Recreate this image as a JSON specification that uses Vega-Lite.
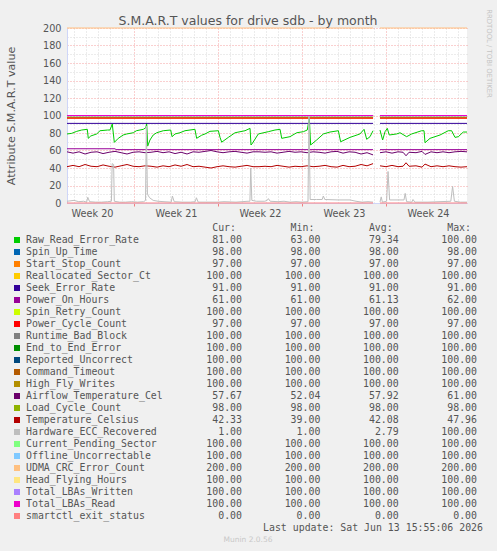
{
  "$schema": "https://vega.github.io/schema/vega-lite/v6.json",
  "width": 400,
  "height": 175,
  "autosize": {"type": "none"},
  "padding": {"left": 67, "top": 28, "right": 30, "bottom": 348},
  "background": "#f0f0f0",
  "config": {"view": {"fill": "#ffffff", "stroke": null}},
  "title": {"text": "S.M.A.R.T values for drive sdb - by month", "font": "DejaVu Sans", "fontSize": 12.5, "fontWeight": "normal", "color": "#555555", "anchor": "middle", "frame": "group", "dx": -19, "offset": -19},
  "datasets": {
    "stats": [
      {"name": "Raw_Read_Error_Rate", "cur": 81, "min": 63, "avg": 79.34, "max": 100},
      {"name": "Spin_Up_Time", "cur": 98, "min": 98, "avg": 98, "max": 98},
      {"name": "Start_Stop_Count", "cur": 97, "min": 97, "avg": 97, "max": 97},
      {"name": "Reallocated_Sector_Ct", "cur": 100, "min": 100, "avg": 100, "max": 100},
      {"name": "Seek_Error_Rate", "cur": 91, "min": 91, "avg": 91, "max": 91},
      {"name": "Power_On_Hours", "cur": 61, "min": 61, "avg": 61.13, "max": 62},
      {"name": "Spin_Retry_Count", "cur": 100, "min": 100, "avg": 100, "max": 100},
      {"name": "Power_Cycle_Count", "cur": 97, "min": 97, "avg": 97, "max": 97},
      {"name": "Runtime_Bad_Block", "cur": 100, "min": 100, "avg": 100, "max": 100},
      {"name": "End_to_End_Error", "cur": 100, "min": 100, "avg": 100, "max": 100},
      {"name": "Reported_Uncorrect", "cur": 100, "min": 100, "avg": 100, "max": 100},
      {"name": "Command_Timeout", "cur": 100, "min": 100, "avg": 100, "max": 100},
      {"name": "High_Fly_Writes", "cur": 100, "min": 100, "avg": 100, "max": 100},
      {"name": "Airflow_Temperature_Cel", "cur": 57.67, "min": 52.04, "avg": 57.92, "max": 61},
      {"name": "Load_Cycle_Count", "cur": 98, "min": 98, "avg": 98, "max": 98},
      {"name": "Temperature_Celsius", "cur": 42.33, "min": 39, "avg": 42.08, "max": 47.96},
      {"name": "Hardware_ECC_Recovered", "cur": 1, "min": 1, "avg": 2.79, "max": 100},
      {"name": "Current_Pending_Sector", "cur": 100, "min": 100, "avg": 100, "max": 100},
      {"name": "Offline_Uncorrectable", "cur": 100, "min": 100, "avg": 100, "max": 100},
      {"name": "UDMA_CRC_Error_Count", "cur": 200, "min": 200, "avg": 200, "max": 200},
      {"name": "Head_Flying_Hours", "cur": 100, "min": 100, "avg": 100, "max": 100},
      {"name": "Total_LBAs_Written", "cur": 100, "min": 100, "avg": 100, "max": 100},
      {"name": "Total_LBAs_Read", "cur": 100, "min": 100, "avg": 100, "max": 100},
      {"name": "smartctl_exit_status", "cur": 0, "min": 0, "avg": 0, "max": 0}
    ],
    "headers": [
      {"stat": "cur", "label": "Cur:"},
      {"stat": "min", "label": "Min:"},
      {"stat": "avg", "label": "Avg:"},
      {"stat": "max", "label": "Max:"}
    ],
    "update": [{"text": "Last update: Sat Jun 13 15:55:06 2026"}],
    "footer": [{"text": "Munin 2.0.56"}],
    "series": [
      {"attr": "Raw_Read_Error_Rate", "day": 1.417, "value": 78.9, "seg": "a"},
      {"attr": "Raw_Read_Error_Rate", "day": 1.81, "value": 79.6, "seg": "a"},
      {"attr": "Raw_Read_Error_Rate", "day": 2.23, "value": 81.9, "seg": "a"},
      {"attr": "Raw_Read_Error_Rate", "day": 2.64, "value": 83.4, "seg": "a"},
      {"attr": "Raw_Read_Error_Rate", "day": 3.11, "value": 84.2, "seg": "a"},
      {"attr": "Raw_Read_Error_Rate", "day": 3.19, "value": 73.9, "seg": "a"},
      {"attr": "Raw_Read_Error_Rate", "day": 3.4, "value": 76.6, "seg": "a"},
      {"attr": "Raw_Read_Error_Rate", "day": 3.89, "value": 78.9, "seg": "a"},
      {"attr": "Raw_Read_Error_Rate", "day": 4.17, "value": 82.6, "seg": "a"},
      {"attr": "Raw_Read_Error_Rate", "day": 4.8, "value": 83.4, "seg": "a"},
      {"attr": "Raw_Read_Error_Rate", "day": 5.0, "value": 83.4, "seg": "a"},
      {"attr": "Raw_Read_Error_Rate", "day": 5.19, "value": 90.3, "seg": "a"},
      {"attr": "Raw_Read_Error_Rate", "day": 5.36, "value": 69.3, "seg": "a"},
      {"attr": "Raw_Read_Error_Rate", "day": 5.69, "value": 73.9, "seg": "a"},
      {"attr": "Raw_Read_Error_Rate", "day": 6.1, "value": 77.7, "seg": "a"},
      {"attr": "Raw_Read_Error_Rate", "day": 6.4, "value": 78.9, "seg": "a"},
      {"attr": "Raw_Read_Error_Rate", "day": 6.94, "value": 80.3, "seg": "a"},
      {"attr": "Raw_Read_Error_Rate", "day": 7.2, "value": 82.6, "seg": "a"},
      {"attr": "Raw_Read_Error_Rate", "day": 7.78, "value": 84.2, "seg": "a"},
      {"attr": "Raw_Read_Error_Rate", "day": 7.98, "value": 86, "seg": "a"},
      {"attr": "Raw_Read_Error_Rate", "day": 8.06, "value": 91, "seg": "a"},
      {"attr": "Raw_Read_Error_Rate", "day": 8.14, "value": 65, "seg": "a"},
      {"attr": "Raw_Read_Error_Rate", "day": 8.33, "value": 72, "seg": "a"},
      {"attr": "Raw_Read_Error_Rate", "day": 8.6, "value": 77.7, "seg": "a"},
      {"attr": "Raw_Read_Error_Rate", "day": 8.89, "value": 80.3, "seg": "a"},
      {"attr": "Raw_Read_Error_Rate", "day": 9.44, "value": 82.6, "seg": "a"},
      {"attr": "Raw_Read_Error_Rate", "day": 10.06, "value": 83.4, "seg": "a"},
      {"attr": "Raw_Read_Error_Rate", "day": 10.17, "value": 75.8, "seg": "a"},
      {"attr": "Raw_Read_Error_Rate", "day": 10.42, "value": 78.9, "seg": "a"},
      {"attr": "Raw_Read_Error_Rate", "day": 10.83, "value": 80.3, "seg": "a"},
      {"attr": "Raw_Read_Error_Rate", "day": 11.25, "value": 82.6, "seg": "a"},
      {"attr": "Raw_Read_Error_Rate", "day": 12.08, "value": 84.2, "seg": "a"},
      {"attr": "Raw_Read_Error_Rate", "day": 12.22, "value": 73.9, "seg": "a"},
      {"attr": "Raw_Read_Error_Rate", "day": 12.64, "value": 77.5, "seg": "a"},
      {"attr": "Raw_Read_Error_Rate", "day": 12.92, "value": 78.9, "seg": "a"},
      {"attr": "Raw_Read_Error_Rate", "day": 13.33, "value": 81.9, "seg": "a"},
      {"attr": "Raw_Read_Error_Rate", "day": 14.03, "value": 82.6, "seg": "a"},
      {"attr": "Raw_Read_Error_Rate", "day": 14.17, "value": 75, "seg": "a"},
      {"attr": "Raw_Read_Error_Rate", "day": 14.31, "value": 69.5, "seg": "a"},
      {"attr": "Raw_Read_Error_Rate", "day": 14.86, "value": 75, "seg": "a"},
      {"attr": "Raw_Read_Error_Rate", "day": 15.42, "value": 80.3, "seg": "a"},
      {"attr": "Raw_Read_Error_Rate", "day": 16.25, "value": 82.6, "seg": "a"},
      {"attr": "Raw_Read_Error_Rate", "day": 16.67, "value": 85.3, "seg": "a"},
      {"attr": "Raw_Read_Error_Rate", "day": 16.75, "value": 66.3, "seg": "a"},
      {"attr": "Raw_Read_Error_Rate", "day": 16.83, "value": 67.5, "seg": "a"},
      {"attr": "Raw_Read_Error_Rate", "day": 17.36, "value": 78.9, "seg": "a"},
      {"attr": "Raw_Read_Error_Rate", "day": 18.19, "value": 81.5, "seg": "a"},
      {"attr": "Raw_Read_Error_Rate", "day": 18.75, "value": 83.4, "seg": "a"},
      {"attr": "Raw_Read_Error_Rate", "day": 19.17, "value": 84.2, "seg": "a"},
      {"attr": "Raw_Read_Error_Rate", "day": 19.31, "value": 73.9, "seg": "a"},
      {"attr": "Raw_Read_Error_Rate", "day": 20.0, "value": 75.8, "seg": "a"},
      {"attr": "Raw_Read_Error_Rate", "day": 20.56, "value": 80.3, "seg": "a"},
      {"attr": "Raw_Read_Error_Rate", "day": 21.11, "value": 81.5, "seg": "a"},
      {"attr": "Raw_Read_Error_Rate", "day": 21.44, "value": 83.4, "seg": "a"},
      {"attr": "Raw_Read_Error_Rate", "day": 21.61, "value": 97, "seg": "a"},
      {"attr": "Raw_Read_Error_Rate", "day": 21.72, "value": 66.3, "seg": "a"},
      {"attr": "Raw_Read_Error_Rate", "day": 22.22, "value": 72, "seg": "a"},
      {"attr": "Raw_Read_Error_Rate", "day": 22.78, "value": 78.9, "seg": "a"},
      {"attr": "Raw_Read_Error_Rate", "day": 23.33, "value": 81.1, "seg": "a"},
      {"attr": "Raw_Read_Error_Rate", "day": 24.03, "value": 82.6, "seg": "a"},
      {"attr": "Raw_Read_Error_Rate", "day": 24.22, "value": 70, "seg": "a"},
      {"attr": "Raw_Read_Error_Rate", "day": 25.0, "value": 75, "seg": "a"},
      {"attr": "Raw_Read_Error_Rate", "day": 25.83, "value": 78.9, "seg": "a"},
      {"attr": "Raw_Read_Error_Rate", "day": 26.17, "value": 84.2, "seg": "a"},
      {"attr": "Raw_Read_Error_Rate", "day": 26.39, "value": 72.8, "seg": "a"},
      {"attr": "Raw_Read_Error_Rate", "day": 26.67, "value": 75.8, "seg": "a"},
      {"attr": "Raw_Read_Error_Rate", "day": 26.92, "value": 82.6, "seg": "a"},
      {"attr": "Raw_Read_Error_Rate", "day": 27.5, "value": 83.4, "seg": "b"},
      {"attr": "Raw_Read_Error_Rate", "day": 27.72, "value": 72, "seg": "b"},
      {"attr": "Raw_Read_Error_Rate", "day": 27.92, "value": 81.5, "seg": "b"},
      {"attr": "Raw_Read_Error_Rate", "day": 28.11, "value": 85.3, "seg": "b"},
      {"attr": "Raw_Read_Error_Rate", "day": 28.27, "value": 77.7, "seg": "b"},
      {"attr": "Raw_Read_Error_Rate", "day": 28.89, "value": 78.9, "seg": "b"},
      {"attr": "Raw_Read_Error_Rate", "day": 29.17, "value": 80.3, "seg": "b"},
      {"attr": "Raw_Read_Error_Rate", "day": 29.72, "value": 75.8, "seg": "b"},
      {"attr": "Raw_Read_Error_Rate", "day": 30.14, "value": 78.9, "seg": "b"},
      {"attr": "Raw_Read_Error_Rate", "day": 30.97, "value": 82.6, "seg": "b"},
      {"attr": "Raw_Read_Error_Rate", "day": 31.17, "value": 82.6, "seg": "b"},
      {"attr": "Raw_Read_Error_Rate", "day": 31.25, "value": 68.9, "seg": "b"},
      {"attr": "Raw_Read_Error_Rate", "day": 31.67, "value": 73.9, "seg": "b"},
      {"attr": "Raw_Read_Error_Rate", "day": 32.5, "value": 77.7, "seg": "b"},
      {"attr": "Raw_Read_Error_Rate", "day": 33.19, "value": 82.6, "seg": "b"},
      {"attr": "Raw_Read_Error_Rate", "day": 33.47, "value": 82.6, "seg": "b"},
      {"attr": "Raw_Read_Error_Rate", "day": 33.75, "value": 75, "seg": "b"},
      {"attr": "Raw_Read_Error_Rate", "day": 34.03, "value": 75.8, "seg": "b"},
      {"attr": "Raw_Read_Error_Rate", "day": 34.44, "value": 81.1, "seg": "b"},
      {"attr": "Raw_Read_Error_Rate", "day": 34.75, "value": 81.1, "seg": "b"},

      {"attr": "Spin_Up_Time", "day": 1.417, "value": 98, "seg": "a"},
      {"attr": "Spin_Up_Time", "day": 26.92, "value": 98, "seg": "a"},
      {"attr": "Spin_Up_Time", "day": 27.5, "value": 98, "seg": "b"},
      {"attr": "Spin_Up_Time", "day": 34.75, "value": 98, "seg": "b"},
      {"attr": "Load_Cycle_Count", "day": 1.417, "value": 98, "seg": "a"},
      {"attr": "Load_Cycle_Count", "day": 26.92, "value": 98, "seg": "a"},
      {"attr": "Load_Cycle_Count", "day": 27.5, "value": 98, "seg": "b"},
      {"attr": "Load_Cycle_Count", "day": 34.75, "value": 98, "seg": "b"},
      {"attr": "Start_Stop_Count", "day": 1.417, "value": 97, "seg": "a"},
      {"attr": "Start_Stop_Count", "day": 26.92, "value": 97, "seg": "a"},
      {"attr": "Start_Stop_Count", "day": 27.5, "value": 97, "seg": "b"},
      {"attr": "Start_Stop_Count", "day": 34.75, "value": 97, "seg": "b"},
      {"attr": "Power_Cycle_Count", "day": 1.417, "value": 97, "seg": "a"},
      {"attr": "Power_Cycle_Count", "day": 26.92, "value": 97, "seg": "a"},
      {"attr": "Power_Cycle_Count", "day": 27.5, "value": 97, "seg": "b"},
      {"attr": "Power_Cycle_Count", "day": 34.75, "value": 97, "seg": "b"},
      {"attr": "Reallocated_Sector_Ct", "day": 1.417, "value": 100, "seg": "a"},
      {"attr": "Reallocated_Sector_Ct", "day": 26.92, "value": 100, "seg": "a"},
      {"attr": "Reallocated_Sector_Ct", "day": 27.5, "value": 100, "seg": "b"},
      {"attr": "Reallocated_Sector_Ct", "day": 34.75, "value": 100, "seg": "b"},
      {"attr": "Seek_Error_Rate", "day": 1.417, "value": 91, "seg": "a"},
      {"attr": "Seek_Error_Rate", "day": 26.92, "value": 91, "seg": "a"},
      {"attr": "Seek_Error_Rate", "day": 27.5, "value": 91, "seg": "b"},
      {"attr": "Seek_Error_Rate", "day": 34.75, "value": 91, "seg": "b"},
      {"attr": "Power_On_Hours", "day": 1.417, "value": 62, "seg": "a"},
      {"attr": "Power_On_Hours", "day": 5.42, "value": 62, "seg": "a"},
      {"attr": "Power_On_Hours", "day": 5.5, "value": 61, "seg": "a"},
      {"attr": "Power_On_Hours", "day": 26.92, "value": 61, "seg": "a"},
      {"attr": "Power_On_Hours", "day": 27.5, "value": 61, "seg": "b"},
      {"attr": "Power_On_Hours", "day": 34.75, "value": 61, "seg": "b"},
      {"attr": "Spin_Retry_Count", "day": 1.417, "value": 100, "seg": "a"},
      {"attr": "Spin_Retry_Count", "day": 26.92, "value": 100, "seg": "a"},
      {"attr": "Spin_Retry_Count", "day": 27.5, "value": 100, "seg": "b"},
      {"attr": "Spin_Retry_Count", "day": 34.75, "value": 100, "seg": "b"},
      {"attr": "Runtime_Bad_Block", "day": 1.417, "value": 100, "seg": "a"},
      {"attr": "Runtime_Bad_Block", "day": 26.92, "value": 100, "seg": "a"},
      {"attr": "Runtime_Bad_Block", "day": 27.5, "value": 100, "seg": "b"},
      {"attr": "Runtime_Bad_Block", "day": 34.75, "value": 100, "seg": "b"},
      {"attr": "End_to_End_Error", "day": 1.417, "value": 100, "seg": "a"},
      {"attr": "End_to_End_Error", "day": 26.92, "value": 100, "seg": "a"},
      {"attr": "End_to_End_Error", "day": 27.5, "value": 100, "seg": "b"},
      {"attr": "End_to_End_Error", "day": 34.75, "value": 100, "seg": "b"},
      {"attr": "Reported_Uncorrect", "day": 1.417, "value": 100, "seg": "a"},
      {"attr": "Reported_Uncorrect", "day": 26.92, "value": 100, "seg": "a"},
      {"attr": "Reported_Uncorrect", "day": 27.5, "value": 100, "seg": "b"},
      {"attr": "Reported_Uncorrect", "day": 34.75, "value": 100, "seg": "b"},
      {"attr": "Command_Timeout", "day": 1.417, "value": 100, "seg": "a"},
      {"attr": "Command_Timeout", "day": 26.92, "value": 100, "seg": "a"},
      {"attr": "Command_Timeout", "day": 27.5, "value": 100, "seg": "b"},
      {"attr": "Command_Timeout", "day": 34.75, "value": 100, "seg": "b"},
      {"attr": "High_Fly_Writes", "day": 1.417, "value": 100, "seg": "a"},
      {"attr": "High_Fly_Writes", "day": 26.92, "value": 100, "seg": "a"},
      {"attr": "High_Fly_Writes", "day": 27.5, "value": 100, "seg": "b"},
      {"attr": "High_Fly_Writes", "day": 34.75, "value": 100, "seg": "b"},

      {"attr": "Airflow_Temperature_Cel", "day": 1.417, "value": 58.5, "seg": "a"},
      {"attr": "Airflow_Temperature_Cel", "day": 1.92, "value": 57, "seg": "a"},
      {"attr": "Airflow_Temperature_Cel", "day": 2.42, "value": 58.5, "seg": "a"},
      {"attr": "Airflow_Temperature_Cel", "day": 2.92, "value": 56, "seg": "a"},
      {"attr": "Airflow_Temperature_Cel", "day": 3.42, "value": 58, "seg": "a"},
      {"attr": "Airflow_Temperature_Cel", "day": 3.92, "value": 58.5, "seg": "a"},
      {"attr": "Airflow_Temperature_Cel", "day": 4.42, "value": 56.5, "seg": "a"},
      {"attr": "Airflow_Temperature_Cel", "day": 4.92, "value": 58, "seg": "a"},
      {"attr": "Airflow_Temperature_Cel", "day": 5.42, "value": 59, "seg": "a"},
      {"attr": "Airflow_Temperature_Cel", "day": 5.92, "value": 57.5, "seg": "a"},
      {"attr": "Airflow_Temperature_Cel", "day": 6.42, "value": 56, "seg": "a"},
      {"attr": "Airflow_Temperature_Cel", "day": 6.92, "value": 58, "seg": "a"},
      {"attr": "Airflow_Temperature_Cel", "day": 7.42, "value": 58.5, "seg": "a"},
      {"attr": "Airflow_Temperature_Cel", "day": 7.92, "value": 57.5, "seg": "a"},
      {"attr": "Airflow_Temperature_Cel", "day": 8.42, "value": 58, "seg": "a"},
      {"attr": "Airflow_Temperature_Cel", "day": 8.92, "value": 59, "seg": "a"},
      {"attr": "Airflow_Temperature_Cel", "day": 9.42, "value": 57.5, "seg": "a"},
      {"attr": "Airflow_Temperature_Cel", "day": 9.92, "value": 58.5, "seg": "a"},
      {"attr": "Airflow_Temperature_Cel", "day": 10.42, "value": 56.5, "seg": "a"},
      {"attr": "Airflow_Temperature_Cel", "day": 10.92, "value": 58, "seg": "a"},
      {"attr": "Airflow_Temperature_Cel", "day": 11.42, "value": 56, "seg": "a"},
      {"attr": "Airflow_Temperature_Cel", "day": 11.92, "value": 58.5, "seg": "a"},
      {"attr": "Airflow_Temperature_Cel", "day": 12.42, "value": 58, "seg": "a"},
      {"attr": "Airflow_Temperature_Cel", "day": 12.92, "value": 59, "seg": "a"},
      {"attr": "Airflow_Temperature_Cel", "day": 13.42, "value": 60, "seg": "a"},
      {"attr": "Airflow_Temperature_Cel", "day": 13.92, "value": 58.5, "seg": "a"},
      {"attr": "Airflow_Temperature_Cel", "day": 14.42, "value": 57.5, "seg": "a"},
      {"attr": "Airflow_Temperature_Cel", "day": 14.92, "value": 58.5, "seg": "a"},
      {"attr": "Airflow_Temperature_Cel", "day": 15.42, "value": 59, "seg": "a"},
      {"attr": "Airflow_Temperature_Cel", "day": 15.92, "value": 58, "seg": "a"},
      {"attr": "Airflow_Temperature_Cel", "day": 16.42, "value": 57, "seg": "a"},
      {"attr": "Airflow_Temperature_Cel", "day": 16.92, "value": 58.5, "seg": "a"},
      {"attr": "Airflow_Temperature_Cel", "day": 17.42, "value": 58.5, "seg": "a"},
      {"attr": "Airflow_Temperature_Cel", "day": 17.92, "value": 58, "seg": "a"},
      {"attr": "Airflow_Temperature_Cel", "day": 18.42, "value": 58.5, "seg": "a"},
      {"attr": "Airflow_Temperature_Cel", "day": 18.92, "value": 57, "seg": "a"},
      {"attr": "Airflow_Temperature_Cel", "day": 19.42, "value": 58, "seg": "a"},
      {"attr": "Airflow_Temperature_Cel", "day": 19.92, "value": 59, "seg": "a"},
      {"attr": "Airflow_Temperature_Cel", "day": 20.42, "value": 58, "seg": "a"},
      {"attr": "Airflow_Temperature_Cel", "day": 20.92, "value": 58.5, "seg": "a"},
      {"attr": "Airflow_Temperature_Cel", "day": 21.42, "value": 57.5, "seg": "a"},
      {"attr": "Airflow_Temperature_Cel", "day": 21.92, "value": 58.5, "seg": "a"},
      {"attr": "Airflow_Temperature_Cel", "day": 22.42, "value": 58, "seg": "a"},
      {"attr": "Airflow_Temperature_Cel", "day": 22.92, "value": 57, "seg": "a"},
      {"attr": "Airflow_Temperature_Cel", "day": 23.42, "value": 58.5, "seg": "a"},
      {"attr": "Airflow_Temperature_Cel", "day": 23.92, "value": 59, "seg": "a"},
      {"attr": "Airflow_Temperature_Cel", "day": 24.42, "value": 57, "seg": "a"},
      {"attr": "Airflow_Temperature_Cel", "day": 24.92, "value": 58.5, "seg": "a"},
      {"attr": "Airflow_Temperature_Cel", "day": 25.42, "value": 58, "seg": "a"},
      {"attr": "Airflow_Temperature_Cel", "day": 25.92, "value": 56, "seg": "a"},
      {"attr": "Airflow_Temperature_Cel", "day": 26.42, "value": 57.5, "seg": "a"},
      {"attr": "Airflow_Temperature_Cel", "day": 26.92, "value": 55, "seg": "a"},
      {"attr": "Airflow_Temperature_Cel", "day": 27.5, "value": 57.5, "seg": "b"},
      {"attr": "Airflow_Temperature_Cel", "day": 28.0, "value": 58.5, "seg": "b"},
      {"attr": "Airflow_Temperature_Cel", "day": 28.5, "value": 57, "seg": "b"},
      {"attr": "Airflow_Temperature_Cel", "day": 29.0, "value": 58.5, "seg": "b"},
      {"attr": "Airflow_Temperature_Cel", "day": 29.42, "value": 58, "seg": "b"},
      {"attr": "Airflow_Temperature_Cel", "day": 29.67, "value": 54, "seg": "b"},
      {"attr": "Airflow_Temperature_Cel", "day": 29.92, "value": 58, "seg": "b"},
      {"attr": "Airflow_Temperature_Cel", "day": 30.5, "value": 57.5, "seg": "b"},
      {"attr": "Airflow_Temperature_Cel", "day": 31.0, "value": 59, "seg": "b"},
      {"attr": "Airflow_Temperature_Cel", "day": 31.25, "value": 55.5, "seg": "b"},
      {"attr": "Airflow_Temperature_Cel", "day": 31.75, "value": 58.5, "seg": "b"},
      {"attr": "Airflow_Temperature_Cel", "day": 32.25, "value": 57.5, "seg": "b"},
      {"attr": "Airflow_Temperature_Cel", "day": 32.75, "value": 58.5, "seg": "b"},
      {"attr": "Airflow_Temperature_Cel", "day": 33.25, "value": 57.5, "seg": "b"},
      {"attr": "Airflow_Temperature_Cel", "day": 33.75, "value": 58.5, "seg": "b"},
      {"attr": "Airflow_Temperature_Cel", "day": 34.25, "value": 59, "seg": "b"},
      {"attr": "Airflow_Temperature_Cel", "day": 34.75, "value": 58.5, "seg": "b"},

      {"attr": "Temperature_Celsius", "day": 1.417, "value": 41.5, "seg": "a"},
      {"attr": "Temperature_Celsius", "day": 1.92, "value": 43, "seg": "a"},
      {"attr": "Temperature_Celsius", "day": 2.42, "value": 41.5, "seg": "a"},
      {"attr": "Temperature_Celsius", "day": 2.92, "value": 44, "seg": "a"},
      {"attr": "Temperature_Celsius", "day": 3.42, "value": 42, "seg": "a"},
      {"attr": "Temperature_Celsius", "day": 3.92, "value": 41.5, "seg": "a"},
      {"attr": "Temperature_Celsius", "day": 4.42, "value": 43.5, "seg": "a"},
      {"attr": "Temperature_Celsius", "day": 4.92, "value": 42, "seg": "a"},
      {"attr": "Temperature_Celsius", "day": 5.42, "value": 41, "seg": "a"},
      {"attr": "Temperature_Celsius", "day": 5.92, "value": 42.5, "seg": "a"},
      {"attr": "Temperature_Celsius", "day": 6.42, "value": 44, "seg": "a"},
      {"attr": "Temperature_Celsius", "day": 6.92, "value": 42, "seg": "a"},
      {"attr": "Temperature_Celsius", "day": 7.42, "value": 41.5, "seg": "a"},
      {"attr": "Temperature_Celsius", "day": 7.92, "value": 42.5, "seg": "a"},
      {"attr": "Temperature_Celsius", "day": 8.42, "value": 42, "seg": "a"},
      {"attr": "Temperature_Celsius", "day": 8.92, "value": 41, "seg": "a"},
      {"attr": "Temperature_Celsius", "day": 9.42, "value": 42.5, "seg": "a"},
      {"attr": "Temperature_Celsius", "day": 9.92, "value": 41.5, "seg": "a"},
      {"attr": "Temperature_Celsius", "day": 10.42, "value": 43.5, "seg": "a"},
      {"attr": "Temperature_Celsius", "day": 10.92, "value": 42, "seg": "a"},
      {"attr": "Temperature_Celsius", "day": 11.42, "value": 44, "seg": "a"},
      {"attr": "Temperature_Celsius", "day": 11.92, "value": 41.5, "seg": "a"},
      {"attr": "Temperature_Celsius", "day": 12.42, "value": 42, "seg": "a"},
      {"attr": "Temperature_Celsius", "day": 12.92, "value": 41, "seg": "a"},
      {"attr": "Temperature_Celsius", "day": 13.42, "value": 40, "seg": "a"},
      {"attr": "Temperature_Celsius", "day": 13.92, "value": 41.5, "seg": "a"},
      {"attr": "Temperature_Celsius", "day": 14.42, "value": 42.5, "seg": "a"},
      {"attr": "Temperature_Celsius", "day": 14.92, "value": 41.5, "seg": "a"},
      {"attr": "Temperature_Celsius", "day": 15.42, "value": 41, "seg": "a"},
      {"attr": "Temperature_Celsius", "day": 15.92, "value": 42, "seg": "a"},
      {"attr": "Temperature_Celsius", "day": 16.42, "value": 43, "seg": "a"},
      {"attr": "Temperature_Celsius", "day": 16.92, "value": 41.5, "seg": "a"},
      {"attr": "Temperature_Celsius", "day": 17.42, "value": 41.5, "seg": "a"},
      {"attr": "Temperature_Celsius", "day": 17.92, "value": 42, "seg": "a"},
      {"attr": "Temperature_Celsius", "day": 18.42, "value": 41.5, "seg": "a"},
      {"attr": "Temperature_Celsius", "day": 18.92, "value": 43, "seg": "a"},
      {"attr": "Temperature_Celsius", "day": 19.42, "value": 42, "seg": "a"},
      {"attr": "Temperature_Celsius", "day": 19.92, "value": 41, "seg": "a"},
      {"attr": "Temperature_Celsius", "day": 20.42, "value": 42, "seg": "a"},
      {"attr": "Temperature_Celsius", "day": 20.92, "value": 41.5, "seg": "a"},
      {"attr": "Temperature_Celsius", "day": 21.42, "value": 42.5, "seg": "a"},
      {"attr": "Temperature_Celsius", "day": 21.92, "value": 41.5, "seg": "a"},
      {"attr": "Temperature_Celsius", "day": 22.42, "value": 42, "seg": "a"},
      {"attr": "Temperature_Celsius", "day": 22.92, "value": 43, "seg": "a"},
      {"attr": "Temperature_Celsius", "day": 23.42, "value": 41.5, "seg": "a"},
      {"attr": "Temperature_Celsius", "day": 23.92, "value": 41, "seg": "a"},
      {"attr": "Temperature_Celsius", "day": 24.42, "value": 43, "seg": "a"},
      {"attr": "Temperature_Celsius", "day": 24.92, "value": 41.5, "seg": "a"},
      {"attr": "Temperature_Celsius", "day": 25.42, "value": 42, "seg": "a"},
      {"attr": "Temperature_Celsius", "day": 25.92, "value": 44, "seg": "a"},
      {"attr": "Temperature_Celsius", "day": 26.42, "value": 42.5, "seg": "a"},
      {"attr": "Temperature_Celsius", "day": 26.92, "value": 45, "seg": "a"},
      {"attr": "Temperature_Celsius", "day": 27.5, "value": 42.5, "seg": "b"},
      {"attr": "Temperature_Celsius", "day": 28.0, "value": 41.5, "seg": "b"},
      {"attr": "Temperature_Celsius", "day": 28.5, "value": 43, "seg": "b"},
      {"attr": "Temperature_Celsius", "day": 29.0, "value": 41.5, "seg": "b"},
      {"attr": "Temperature_Celsius", "day": 29.42, "value": 42, "seg": "b"},
      {"attr": "Temperature_Celsius", "day": 29.67, "value": 46, "seg": "b"},
      {"attr": "Temperature_Celsius", "day": 29.92, "value": 42, "seg": "b"},
      {"attr": "Temperature_Celsius", "day": 30.5, "value": 42.5, "seg": "b"},
      {"attr": "Temperature_Celsius", "day": 31.0, "value": 41, "seg": "b"},
      {"attr": "Temperature_Celsius", "day": 31.25, "value": 44.5, "seg": "b"},
      {"attr": "Temperature_Celsius", "day": 31.75, "value": 41.5, "seg": "b"},
      {"attr": "Temperature_Celsius", "day": 32.25, "value": 42.5, "seg": "b"},
      {"attr": "Temperature_Celsius", "day": 32.75, "value": 41.5, "seg": "b"},
      {"attr": "Temperature_Celsius", "day": 33.25, "value": 42.5, "seg": "b"},
      {"attr": "Temperature_Celsius", "day": 33.75, "value": 41.5, "seg": "b"},
      {"attr": "Temperature_Celsius", "day": 34.25, "value": 41, "seg": "b"},
      {"attr": "Temperature_Celsius", "day": 34.75, "value": 41.5, "seg": "b"},

      {"attr": "Hardware_ECC_Recovered", "day": 1.417, "value": 2, "seg": "a"},
      {"attr": "Hardware_ECC_Recovered", "day": 2.0, "value": 3, "seg": "a"},
      {"attr": "Hardware_ECC_Recovered", "day": 2.4, "value": 1.5, "seg": "a"},
      {"attr": "Hardware_ECC_Recovered", "day": 2.8, "value": 2, "seg": "a"},
      {"attr": "Hardware_ECC_Recovered", "day": 3.05, "value": 1, "seg": "a"},
      {"attr": "Hardware_ECC_Recovered", "day": 3.15, "value": 6.5, "seg": "a"},
      {"attr": "Hardware_ECC_Recovered", "day": 3.3, "value": 1.5, "seg": "a"},
      {"attr": "Hardware_ECC_Recovered", "day": 3.8, "value": 1, "seg": "a"},
      {"attr": "Hardware_ECC_Recovered", "day": 4.3, "value": 1, "seg": "a"},
      {"attr": "Hardware_ECC_Recovered", "day": 4.8, "value": 1.5, "seg": "a"},
      {"attr": "Hardware_ECC_Recovered", "day": 5.12, "value": 2, "seg": "a"},
      {"attr": "Hardware_ECC_Recovered", "day": 5.18, "value": 45, "seg": "a"},
      {"attr": "Hardware_ECC_Recovered", "day": 5.3, "value": 44, "seg": "a"},
      {"attr": "Hardware_ECC_Recovered", "day": 5.36, "value": 2, "seg": "a"},
      {"attr": "Hardware_ECC_Recovered", "day": 5.8, "value": 1, "seg": "a"},
      {"attr": "Hardware_ECC_Recovered", "day": 6.3, "value": 1, "seg": "a"},
      {"attr": "Hardware_ECC_Recovered", "day": 6.8, "value": 1.5, "seg": "a"},
      {"attr": "Hardware_ECC_Recovered", "day": 7.3, "value": 1, "seg": "a"},
      {"attr": "Hardware_ECC_Recovered", "day": 7.8, "value": 1.5, "seg": "a"},
      {"attr": "Hardware_ECC_Recovered", "day": 7.96, "value": 3, "seg": "a"},
      {"attr": "Hardware_ECC_Recovered", "day": 8.03, "value": 88, "seg": "a"},
      {"attr": "Hardware_ECC_Recovered", "day": 8.12, "value": 10, "seg": "a"},
      {"attr": "Hardware_ECC_Recovered", "day": 8.3, "value": 6, "seg": "a"},
      {"attr": "Hardware_ECC_Recovered", "day": 8.6, "value": 3, "seg": "a"},
      {"attr": "Hardware_ECC_Recovered", "day": 9.0, "value": 2, "seg": "a"},
      {"attr": "Hardware_ECC_Recovered", "day": 9.5, "value": 1.5, "seg": "a"},
      {"attr": "Hardware_ECC_Recovered", "day": 10.1, "value": 1, "seg": "a"},
      {"attr": "Hardware_ECC_Recovered", "day": 10.2, "value": 8, "seg": "a"},
      {"attr": "Hardware_ECC_Recovered", "day": 10.35, "value": 1.5, "seg": "a"},
      {"attr": "Hardware_ECC_Recovered", "day": 11.0, "value": 1, "seg": "a"},
      {"attr": "Hardware_ECC_Recovered", "day": 11.7, "value": 1, "seg": "a"},
      {"attr": "Hardware_ECC_Recovered", "day": 12.1, "value": 1.5, "seg": "a"},
      {"attr": "Hardware_ECC_Recovered", "day": 12.2, "value": 6, "seg": "a"},
      {"attr": "Hardware_ECC_Recovered", "day": 12.35, "value": 1, "seg": "a"},
      {"attr": "Hardware_ECC_Recovered", "day": 13.0, "value": 1, "seg": "a"},
      {"attr": "Hardware_ECC_Recovered", "day": 14.0, "value": 1, "seg": "a"},
      {"attr": "Hardware_ECC_Recovered", "day": 14.5, "value": 1.5, "seg": "a"},
      {"attr": "Hardware_ECC_Recovered", "day": 15.5, "value": 1, "seg": "a"},
      {"attr": "Hardware_ECC_Recovered", "day": 16.5, "value": 2, "seg": "a"},
      {"attr": "Hardware_ECC_Recovered", "day": 16.66, "value": 2, "seg": "a"},
      {"attr": "Hardware_ECC_Recovered", "day": 16.73, "value": 40, "seg": "a"},
      {"attr": "Hardware_ECC_Recovered", "day": 16.82, "value": 3, "seg": "a"},
      {"attr": "Hardware_ECC_Recovered", "day": 17.2, "value": 2, "seg": "a"},
      {"attr": "Hardware_ECC_Recovered", "day": 17.9, "value": 2, "seg": "a"},
      {"attr": "Hardware_ECC_Recovered", "day": 18.1, "value": 3, "seg": "a"},
      {"attr": "Hardware_ECC_Recovered", "day": 18.2, "value": 5, "seg": "a"},
      {"attr": "Hardware_ECC_Recovered", "day": 18.35, "value": 2, "seg": "a"},
      {"attr": "Hardware_ECC_Recovered", "day": 19.0, "value": 1.5, "seg": "a"},
      {"attr": "Hardware_ECC_Recovered", "day": 19.5, "value": 2, "seg": "a"},
      {"attr": "Hardware_ECC_Recovered", "day": 20.0, "value": 1, "seg": "a"},
      {"attr": "Hardware_ECC_Recovered", "day": 20.5, "value": 1.5, "seg": "a"},
      {"attr": "Hardware_ECC_Recovered", "day": 21.0, "value": 1, "seg": "a"},
      {"attr": "Hardware_ECC_Recovered", "day": 21.5, "value": 1.5, "seg": "a"},
      {"attr": "Hardware_ECC_Recovered", "day": 21.58, "value": 100, "seg": "a"},
      {"attr": "Hardware_ECC_Recovered", "day": 21.68, "value": 4, "seg": "a"},
      {"attr": "Hardware_ECC_Recovered", "day": 22.2, "value": 4, "seg": "a"},
      {"attr": "Hardware_ECC_Recovered", "day": 22.68, "value": 4, "seg": "a"},
      {"attr": "Hardware_ECC_Recovered", "day": 22.78, "value": 8, "seg": "a"},
      {"attr": "Hardware_ECC_Recovered", "day": 22.9, "value": 4, "seg": "a"},
      {"attr": "Hardware_ECC_Recovered", "day": 24.0, "value": 3.5, "seg": "a"},
      {"attr": "Hardware_ECC_Recovered", "day": 25.0, "value": 3.5, "seg": "a"},
      {"attr": "Hardware_ECC_Recovered", "day": 25.5, "value": 2, "seg": "a"},
      {"attr": "Hardware_ECC_Recovered", "day": 26.0, "value": 1, "seg": "a"},
      {"attr": "Hardware_ECC_Recovered", "day": 26.5, "value": 1.5, "seg": "a"},
      {"attr": "Hardware_ECC_Recovered", "day": 26.92, "value": 1, "seg": "a"},
      {"attr": "Hardware_ECC_Recovered", "day": 27.5, "value": 1, "seg": "b"},
      {"attr": "Hardware_ECC_Recovered", "day": 27.6, "value": 7, "seg": "b"},
      {"attr": "Hardware_ECC_Recovered", "day": 27.7, "value": 1, "seg": "b"},
      {"attr": "Hardware_ECC_Recovered", "day": 28.05, "value": 2, "seg": "b"},
      {"attr": "Hardware_ECC_Recovered", "day": 28.17, "value": 36, "seg": "b"},
      {"attr": "Hardware_ECC_Recovered", "day": 28.3, "value": 3.5, "seg": "b"},
      {"attr": "Hardware_ECC_Recovered", "day": 29.5, "value": 3.5, "seg": "b"},
      {"attr": "Hardware_ECC_Recovered", "day": 29.6, "value": 11, "seg": "b"},
      {"attr": "Hardware_ECC_Recovered", "day": 29.72, "value": 1.5, "seg": "b"},
      {"attr": "Hardware_ECC_Recovered", "day": 30.15, "value": 1, "seg": "b"},
      {"attr": "Hardware_ECC_Recovered", "day": 30.25, "value": 4, "seg": "b"},
      {"attr": "Hardware_ECC_Recovered", "day": 30.4, "value": 1, "seg": "b"},
      {"attr": "Hardware_ECC_Recovered", "day": 31.5, "value": 1, "seg": "b"},
      {"attr": "Hardware_ECC_Recovered", "day": 33.4, "value": 2, "seg": "b"},
      {"attr": "Hardware_ECC_Recovered", "day": 33.55, "value": 19, "seg": "b"},
      {"attr": "Hardware_ECC_Recovered", "day": 33.7, "value": 2, "seg": "b"},
      {"attr": "Hardware_ECC_Recovered", "day": 34.2, "value": 1, "seg": "b"},
      {"attr": "Hardware_ECC_Recovered", "day": 34.75, "value": 1, "seg": "b"},

      {"attr": "Current_Pending_Sector", "day": 1.417, "value": 100, "seg": "a"},
      {"attr": "Current_Pending_Sector", "day": 26.92, "value": 100, "seg": "a"},
      {"attr": "Current_Pending_Sector", "day": 27.5, "value": 100, "seg": "b"},
      {"attr": "Current_Pending_Sector", "day": 34.75, "value": 100, "seg": "b"},
      {"attr": "Offline_Uncorrectable", "day": 1.417, "value": 100, "seg": "a"},
      {"attr": "Offline_Uncorrectable", "day": 26.92, "value": 100, "seg": "a"},
      {"attr": "Offline_Uncorrectable", "day": 27.5, "value": 100, "seg": "b"},
      {"attr": "Offline_Uncorrectable", "day": 34.75, "value": 100, "seg": "b"},
      {"attr": "UDMA_CRC_Error_Count", "day": 1.417, "value": 200, "seg": "a"},
      {"attr": "UDMA_CRC_Error_Count", "day": 26.92, "value": 200, "seg": "a"},
      {"attr": "UDMA_CRC_Error_Count", "day": 27.5, "value": 200, "seg": "b"},
      {"attr": "UDMA_CRC_Error_Count", "day": 34.75, "value": 200, "seg": "b"},
      {"attr": "Head_Flying_Hours", "day": 1.417, "value": 100, "seg": "a"},
      {"attr": "Head_Flying_Hours", "day": 26.92, "value": 100, "seg": "a"},
      {"attr": "Head_Flying_Hours", "day": 27.5, "value": 100, "seg": "b"},
      {"attr": "Head_Flying_Hours", "day": 34.75, "value": 100, "seg": "b"},
      {"attr": "Total_LBAs_Written", "day": 1.417, "value": 100, "seg": "a"},
      {"attr": "Total_LBAs_Written", "day": 26.92, "value": 100, "seg": "a"},
      {"attr": "Total_LBAs_Written", "day": 27.5, "value": 100, "seg": "b"},
      {"attr": "Total_LBAs_Written", "day": 34.75, "value": 100, "seg": "b"},
      {"attr": "smartctl_exit_status", "day": 1.417, "value": 0, "seg": "a"},
      {"attr": "smartctl_exit_status", "day": 26.92, "value": 0, "seg": "a"},
      {"attr": "smartctl_exit_status", "day": 27.5, "value": 0, "seg": "b"},
      {"attr": "smartctl_exit_status", "day": 34.75, "value": 0, "seg": "b"},
      {"attr": "Total_LBAs_Read", "day": 1.417, "value": 100, "seg": "a"},
      {"attr": "Total_LBAs_Read", "day": 26.92, "value": 100, "seg": "a"},
      {"attr": "Total_LBAs_Read", "day": 27.5, "value": 100, "seg": "b"},
      {"attr": "Total_LBAs_Read", "day": 34.75, "value": 100, "seg": "b"}
    ]
  },
  "layer": [
    {
      "data": {"name": "series"},
      "mark": {"type": "line", "strokeWidth": 1},
      "encoding": {
        "x": {
          "field": "day", "type": "quantitative",
          "scale": {"domain": [1.417, 34.75], "nice": false, "zero": false},
          "axis": {
            "values": [2,3,4,5,6,7,8,9,10,11,12,13,14,15,16,17,18,19,20,21,22,23,24,25,26,27,28,29,30,31,32,33,34,3.5,10.5,17.5,24.5,31.5],
            "grid": true,
            "gridColor": {"condition": {"test": "datum.value % 7 === 0", "value": "#f4a0a0"}, "value": "#d8d8d8"},
            "gridOpacity": {"condition": {"test": "datum.value % 1 !== 0", "value": 0}, "value": 1},
            "gridDash": [1, 2],
            "ticks": true,
            "tickSize": 3,
            "tickColor": "#f08080",
            "tickOpacity": {"condition": {"test": "datum.value % 7 === 0", "value": 1}, "value": 0},
            "labelExpr": "datum.value % 1 === 0.5 ? 'Week ' + (20 + floor(datum.value / 7)) : ''",
            "labelFont": "DejaVu Sans", "labelFontSize": 9.7, "labelColor": "#555555",
            "labelPadding": 2, "labelOverlap": false, "labelFlush": false, "labelBound": false,
            "domainColor": "#cfd6f8",
            "title": null
          }
        },
        "y": {
          "field": "value", "type": "quantitative",
          "scale": {"domain": [0, 200], "nice": false},
          "axis": {
            "values": [0,10,20,30,40,50,60,70,80,90,100,110,120,130,140,150,160,170,180,190,200],
            "labelExpr": "datum.value % 20 === 0 ? datum.label : ''",
            "grid": true,
            "gridColor": {"condition": {"test": "datum.value % 20 === 0", "value": "#f4a0a0"}, "value": "#d8d8d8"},
            "gridDash": [1, 2],
            "ticks": false,
            "domainColor": "#cfd6f8",
            "labelFont": "DejaVu Sans", "labelFontSize": 9.7, "labelColor": "#555555",
            "labelPadding": 6, "labelOverlap": false,
            "title": "Attribute S.M.A.R.T value",
            "titleFont": "DejaVu Sans", "titleFontSize": 11.1, "titleFontWeight": "normal", "titleColor": "#555555",
            "titleX": -56, "titleY": 87.5, "titleAlign": "center", "titleBaseline": "middle", "titleAngle": 270
          }
        },
        "color": {
          "field": "attr", "type": "nominal", "legend": null,
          "scale": {
            "domain": ["Raw_Read_Error_Rate","Spin_Up_Time","Start_Stop_Count","Reallocated_Sector_Ct","Seek_Error_Rate","Power_On_Hours","Spin_Retry_Count","Power_Cycle_Count","Runtime_Bad_Block","End_to_End_Error","Reported_Uncorrect","Command_Timeout","High_Fly_Writes","Airflow_Temperature_Cel","Load_Cycle_Count","Temperature_Celsius","Hardware_ECC_Recovered","Current_Pending_Sector","Offline_Uncorrectable","UDMA_CRC_Error_Count","Head_Flying_Hours","Total_LBAs_Written","Total_LBAs_Read","smartctl_exit_status"],
            "range": ["#00cc00","#0066b3","#ff8000","#ffcc00","#330099","#990099","#ccff00","#ff0000","#808080","#008f00","#00487d","#b35a00","#b38f00","#6b006b","#8fb300","#b30000","#bebebe","#80ff80","#80c9ff","#ffc080","#ffe680","#aa80ff","#ee00cc","#ff8080"]
          }
        },
        "detail": {"field": "seg"}
      }
    },
    {
      "layer": [
        {
          "layer": [
            {
              "data": {"name": "stats"},
              "mark": {"type": "point", "shape": "square", "filled": true, "size": 36, "opacity": 1, "strokeWidth": 0},
              "encoding": {
                "x": {"datum": "swatch", "type": "nominal", "scale": {"type": "point", "domain": ["swatch", "name"], "range": [-50, -41], "padding": 0}, "axis": null},
                "y": {
                  "field": "name", "type": "nominal",
                  "scale": {"type": "point", "domain": ["header","Raw_Read_Error_Rate","Spin_Up_Time","Start_Stop_Count","Reallocated_Sector_Ct","Seek_Error_Rate","Power_On_Hours","Spin_Retry_Count","Power_Cycle_Count","Runtime_Bad_Block","End_to_End_Error","Reported_Uncorrect","Command_Timeout","High_Fly_Writes","Airflow_Temperature_Cel","Load_Cycle_Count","Temperature_Celsius","Hardware_ECC_Recovered","Current_Pending_Sector","Offline_Uncorrectable","UDMA_CRC_Error_Count","Head_Flying_Hours","Total_LBAs_Written","Total_LBAs_Read","smartctl_exit_status","update","footer"], "range": [200, 512], "padding": 0},
                  "axis": {"orient": "right", "domain": false, "ticks": false, "labels": false, "grid": false,
                    "title": "RRDTOOL / TOBI OETIKER", "titleFont": "DejaVu Sans", "titleFontSize": 6.9, "titleFontWeight": "normal", "titleColor": "#c4c4c4",
                    "titleAngle": 90, "titleX": 21, "titleY": 25, "titleAlign": "center", "titleBaseline": "middle"}
                },
                "color": {
                  "field": "name", "type": "nominal", "legend": null,
                  "scale": {
                    "domain": ["Raw_Read_Error_Rate","Spin_Up_Time","Start_Stop_Count","Reallocated_Sector_Ct","Seek_Error_Rate","Power_On_Hours","Spin_Retry_Count","Power_Cycle_Count","Runtime_Bad_Block","End_to_End_Error","Reported_Uncorrect","Command_Timeout","High_Fly_Writes","Airflow_Temperature_Cel","Load_Cycle_Count","Temperature_Celsius","Hardware_ECC_Recovered","Current_Pending_Sector","Offline_Uncorrectable","UDMA_CRC_Error_Count","Head_Flying_Hours","Total_LBAs_Written","Total_LBAs_Read","smartctl_exit_status"],
                    "range": ["#00cc00","#0066b3","#ff8000","#ffcc00","#330099","#990099","#ccff00","#ff0000","#808080","#008f00","#00487d","#b35a00","#b38f00","#6b006b","#8fb300","#b30000","#bebebe","#80ff80","#80c9ff","#ffc080","#ffe680","#aa80ff","#ee00cc","#ff8080"]
                  }
                }
              }
            },
            {
              "data": {"name": "stats"},
              "mark": {"type": "text", "align": "left", "baseline": "middle", "font": "DejaVu Sans Mono", "fontSize": 9.9, "color": "#555555"},
              "encoding": {
                "x": {"datum": "name", "type": "nominal", "scale": {"type": "point", "domain": ["swatch", "name"], "range": [-50, -41], "padding": 0}, "axis": null},
                "y": {"field": "name", "type": "nominal"},
                "text": {"field": "name"}
              }
            }
          ]
        },
        {
          "layer": [
            {
              "data": {"name": "headers"},
              "mark": {"type": "text", "align": "right", "baseline": "middle", "font": "DejaVu Sans Mono", "fontSize": 9.9, "color": "#555555", "dx": -6},
              "encoding": {
                "x": {"field": "stat", "type": "nominal", "scale": {"type": "point", "domain": ["cur", "min", "avg", "max"], "range": [175, 410], "padding": 0}, "axis": null},
                "y": {"datum": "header", "type": "nominal"},
                "text": {"field": "label"}
              }
            },
            {
              "data": {"name": "stats"},
              "transform": [{"fold": ["cur", "min", "avg", "max"], "as": ["stat", "val"]}],
              "mark": {"type": "text", "align": "right", "baseline": "middle", "font": "DejaVu Sans Mono", "fontSize": 9.9, "color": "#555555"},
              "encoding": {
                "x": {"field": "stat", "type": "nominal", "axis": null},
                "y": {"field": "name", "type": "nominal"},
                "text": {"field": "val", "type": "quantitative", "format": ".2f"}
              }
            },
            {
              "data": {"name": "update"},
              "mark": {"type": "text", "align": "right", "baseline": "middle", "font": "DejaVu Sans Mono", "fontSize": 9.9, "color": "#555555", "dx": 6},
              "encoding": {
                "x": {"datum": "max", "type": "nominal", "axis": null},
                "y": {"datum": "update", "type": "nominal"},
                "text": {"field": "text"}
              }
            },
            {
              "data": {"name": "footer"},
              "mark": {"type": "text", "align": "center", "baseline": "middle", "font": "DejaVu Sans", "fontSize": 7.5, "color": "#c8c8c8", "dx": 6},
              "encoding": {
                "x": {"datum": "cur", "type": "nominal", "axis": null},
                "y": {"datum": "footer", "type": "nominal"},
                "text": {"field": "text"}
              }
            }
          ]
        }
      ],
      "resolve": {"scale": {"x": "independent"}}
    }
  ],
  "resolve": {"scale": {"x": "independent", "y": "independent"}}
}
